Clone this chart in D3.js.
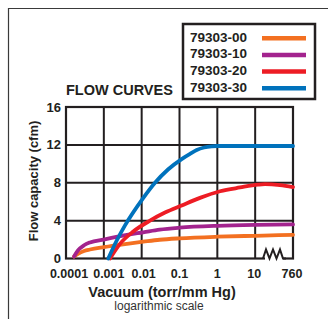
<!DOCTYPE html>
<html><head><meta charset="utf-8">
<script src="https://cdn.jsdelivr.net/npm/d3@7"></script>
<style>
html,body{margin:0;padding:0;background:#fff;}
svg{display:block;font-family:"Liberation Sans",Arial,Helvetica,sans-serif;}
</style></head>
<body>
<svg id="chart" width="328" height="319"></svg>
<script>
// ---- data ----
const seriesNames = ["79303-00", "79303-10", "79303-20", "79303-30"];
const seriesColors = ["#F37021", "#A3238E", "#ED1C24", "#0072BC"];

const vacuum00 = [1.63e-4, 2.07e-4, 3.0e-4, 4.3e-4, 1e-3, 4.1e-3, 1.1e-2, 3e-2, 0.1, 1, 10, 100];
const flow00   = [0.2, 0.5, 0.8, 0.95, 1.2, 1.55, 1.77, 1.98, 2.13, 2.3, 2.4, 2.5];

const vacuum10 = [1.63e-4, 2.07e-4, 3.0e-4, 4.3e-4, 1e-3, 4.1e-3, 1.1e-2, 3e-2, 0.1, 1, 10, 100];
const flow10   = [0.2, 0.85, 1.4, 1.7, 2.0, 2.5, 2.77, 3.05, 3.25, 3.45, 3.55, 3.6];

const vacuum20 = [1.46e-3, 2.67e-3, 6.0e-3, 1.66e-2, 4.14e-2, 0.114, 0.348, 1.18, 3.98, 11.9, 18.2, 45.4, 100];
const flow20   = [0, 1.55, 2.85, 4.0, 4.85, 5.6, 6.4, 7.1, 7.5, 7.8, 7.85, 7.75, 7.55];

const vacuum30 = [1.31e-3, 2.16e-3, 3.63e-3, 1.06e-2, 2.25e-2, 4.97e-2, 0.114, 0.19, 0.285, 0.445, 0.71, 1, 10, 100];
const flow30   = [0, 1.85, 3.5, 6.3, 8.0, 9.4, 10.5, 11.05, 11.45, 11.72, 11.85, 11.88, 11.88, 11.88];

const xTickValues = [1e-4, 1e-3, 1e-2, 1e-1, 1, 10, 100];
const xTickLabels = ["0.0001", "0.001", "0.01", "0.1", "1", "10", "760"];
const yTickValues = [0, 4, 8, 12, 16];

const series = [
  {name: seriesNames[0], color: seriesColors[0], xs: vacuum00, ys: flow00},
  {name: seriesNames[1], color: seriesColors[1], xs: vacuum10, ys: flow10},
  {name: seriesNames[2], color: seriesColors[2], xs: vacuum20, ys: flow20},
  {name: seriesNames[3], color: seriesColors[3], xs: vacuum30, ys: flow30}
];

// ---- layout ----
const svg = d3.select("#chart");
const L = 66, R = 293, T = 107, B = 258.5;
const x = d3.scaleLog().domain([1e-4, 100]).range([L, R]);
const y = d3.scaleLinear().domain([0, 16]).range([B, T]);
const ink = "#231f20";

// outer frame
svg.append("path").attr("d", "M8.5,319 V8.5 H328")
  .attr("fill", "none").attr("stroke", "#3a3a3a").attr("stroke-width", 1.2);

// title
svg.append("text").attr("x", 66).attr("y", 95)
  .attr("font-size", 14.5).attr("font-weight", "bold").attr("fill", ink)
  .text("FLOW CURVES");

// grid
const g = svg.append("g");
g.selectAll("line.vx").data(xTickValues.slice(1, -1)).join("line")
  .attr("x1", d => x(d)).attr("x2", d => x(d)).attr("y1", T).attr("y2", B)
  .attr("stroke", ink).attr("stroke-width", 2);
g.selectAll("line.hy").data(yTickValues.slice(1, -1)).join("line")
  .attr("x1", L).attr("x2", R).attr("y1", d => y(d)).attr("y2", d => y(d))
  .attr("stroke", ink).attr("stroke-width", 2);
g.append("rect").attr("x", L).attr("y", T).attr("width", R - L).attr("height", B - T)
  .attr("fill", "none").attr("stroke", ink).attr("stroke-width", 2.2);

// axis break (zigzag)
g.append("line").attr("x1", 265).attr("x2", 283).attr("y1", B).attr("y2", B)
  .attr("stroke", "#fff").attr("stroke-width", 3);
g.append("path").attr("d", `M263,${B} L266,${B-9} L269.5,${B} L273,${B-9} L276.5,${B} L280,${B-9} L283,${B} L286,${B}`)
  .attr("fill", "none").attr("stroke", ink).attr("stroke-width", 2).attr("stroke-linejoin", "miter");

// y tick labels
svg.append("g").selectAll("text").data(yTickValues).join("text")
  .attr("x", 61).attr("y", d => y(d) + 4.6).attr("text-anchor", "end")
  .attr("font-size", 13).attr("font-weight", "bold").attr("fill", ink)
  .text(d => d);

// x tick labels
const xOff = [3, 5, 2, 0, 0, -1, -1];
svg.append("g").selectAll("text").data(xTickValues).join("text")
  .attr("x", (d, i) => x(d) + xOff[i]).attr("y", 278).attr("text-anchor", "middle")
  .attr("font-size", 12.5).attr("font-weight", "bold").attr("fill", ink)
  .text((d, i) => xTickLabels[i]);

// axis titles
svg.append("text").attr("transform", "translate(38,181) rotate(-90)")
  .attr("text-anchor", "middle").attr("font-size", 13).attr("font-weight", "bold").attr("fill", ink)
  .text("Flow capacity (cfm)");
svg.append("text").attr("x", 162).attr("y", 296.5).attr("text-anchor", "middle")
  .attr("font-size", 14.5).attr("font-weight", "bold").attr("fill", ink)
  .text("Vacuum (torr/mm Hg)");
svg.append("text").attr("x", 159).attr("y", 310).attr("text-anchor", "middle")
  .attr("font-size", 12).attr("fill", "#333")
  .text("logarithmic scale");

// curves
const line = d3.line().x(d => x(d[0])).y(d => y(d[1])).curve(d3.curveMonotoneX);
svg.append("g").selectAll("path").data(series).join("path")
  .attr("d", s => line(s.xs.map((v, i) => [v, s.ys[i]])))
  .attr("fill", "none").attr("stroke", s => s.color).attr("stroke-width", 3.8)
  .attr("stroke-linecap", "round");

// legend
const lg = svg.append("g");
lg.append("rect").attr("x", 183).attr("y", 24).attr("width", 132).attr("height", 75)
  .attr("fill", "#fff").attr("stroke", ink).attr("stroke-width", 2.5);
const rows = lg.selectAll("g.row").data(series).join("g")
  .attr("transform", (d, i) => `translate(0,${41.7 + i * 16.7})`);
rows.append("text").attr("x", 190).attr("y", 0)
  .attr("font-size", 13.5).attr("font-weight", "bold").attr("fill", ink)
  .text(d => d.name);
rows.append("line").attr("x1", 262).attr("x2", 306).attr("y1", -3.5).attr("y2", -3.5)
  .attr("stroke", d => d.color).attr("stroke-width", 4.5);
</script>
</body></html>
